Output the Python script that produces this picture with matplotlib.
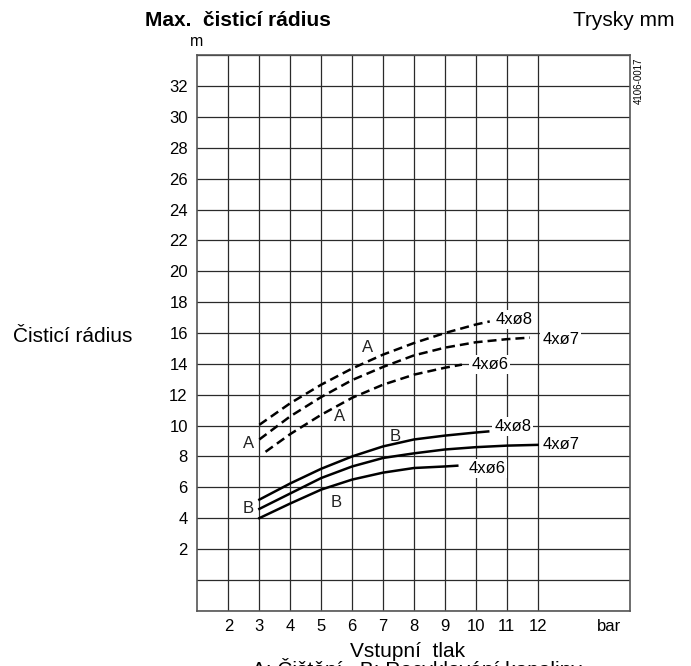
import numpy as np
from matplotlib import pyplot as plt

plt.rcParams["font.family"] = ["Liberation Sans", "DejaVu Sans"]

# pressure (bar) and max cleaning radius (m) per nozzle set, A = dashed, B = solid
a8_x = [3, 4, 5, 6, 7, 8, 9, 10, 10.45]
a8_y = [10.05, 11.45, 12.65, 13.7, 14.6, 15.35, 16.0, 16.55, 16.75]
a7_x = [3, 4, 5, 6, 7, 8, 9, 10, 11, 11.75]
a7_y = [9.1, 10.6, 11.85, 12.95, 13.8, 14.55, 15.05, 15.4, 15.6, 15.7]
a6_x = [3.2, 4, 5, 6, 7, 8, 9, 9.55]
a6_y = [8.3, 9.45, 10.7, 11.8, 12.65, 13.3, 13.75, 13.95]

b8_x = [3, 4, 5, 6, 7, 8, 9, 10, 10.4]
b8_y = [5.2, 6.25, 7.2, 8.0, 8.65, 9.1, 9.35, 9.55, 9.62]
b7_x = [3, 4, 5, 6, 7, 8, 9, 10, 11, 12]
b7_y = [4.6, 5.6, 6.6, 7.35, 7.9, 8.2, 8.45, 8.6, 8.7, 8.75]
b6_x = [3, 4, 5, 6, 7, 8, 9, 9.4]
b6_y = [4.0, 4.95, 5.85, 6.5, 6.95, 7.25, 7.35, 7.4]

grid_x = [2, 3, 4, 5, 6, 7, 8, 9, 10, 11, 12]
x_ticks = grid_x + [14.3]
x_labels = [str(v) for v in grid_x] + ["bar"]
y_ticks = [2, 4, 6, 8, 10, 12, 14, 16, 18, 20, 22, 24, 26, 28, 30, 32]

# (text, x, y) for curve labels
nozzle_labels = [
    ("4xø8", 11.25, 16.9),
    ("4xø7", 12.75, 15.55),
    ("4xø6", 10.45, 13.95),
    ("4xø8", 11.2, 9.95),
    ("4xø7", 12.75, 8.8),
    ("4xø6", 10.35, 7.25),
]
letter_labels = [
    ("A", 6.5, 15.05),
    ("A", 5.6, 10.6),
    ("A", 2.65, 8.85),
    ("B", 7.4, 9.3),
    ("B", 2.65, 4.65),
    ("B", 5.5, 5.0),
]

fig = plt.figure(figsize=(6.91, 6.66), dpi=100)
ax = fig.add_axes([0.2858, 0.083, 0.6266, 0.834])
ax.set_xlim(1, 15)
ax.set_ylim(-2, 34)

for x in grid_x:
    ax.axvline(x, color="#2a2a2a", lw=0.9, zorder=1)
for y in range(-2, 35, 2):
    ax.axhline(y, color="#2a2a2a", lw=0.9, zorder=1)
for s in ax.spines.values():
    s.set_color("#555555")
    s.set_linewidth(1.2)

ax.set_xticks(x_ticks)
ax.set_xticklabels(x_labels)
ax.set_yticks(y_ticks)
ax.tick_params(length=0, labelsize=12)
ax.tick_params(axis="x", pad=6)
ax.tick_params(axis="y", pad=7)

dash = dict(color="black", lw=1.8, linestyle=(0, (3.6, 2.0)), zorder=3)
solid = dict(color="black", lw=1.8, zorder=3)
ax.plot(a8_x, a8_y, **dash)
ax.plot(a7_x, a7_y, **dash)
ax.plot(a6_x, a6_y, **dash)
ax.plot(b8_x, b8_y, **solid)
ax.plot(b7_x, b7_y, **solid)
ax.plot(b6_x, b6_y, **solid)

for t, x, y in nozzle_labels:
    ax.text(x, y, t, fontsize=12, ha="center", va="center", zorder=4,
            bbox=dict(facecolor="white", edgecolor="none", pad=1.5))
for t, x, y in letter_labels:
    ax.text(x, y, t, fontsize=12, ha="center", va="center", zorder=4,
            color="#222222")

fig.text(0.345, 0.961, "Max.  čisticí rádius", fontsize=15, fontweight="bold",
         ha="center", va="baseline")
fig.text(0.902, 0.961, "Trysky mm", fontsize=15, ha="center", va="baseline")
fig.text(0.285, 0.931, "m", fontsize=11.5, ha="center", va="baseline")
fig.text(0.105, 0.494, "Čisticí rádius", fontsize=15, ha="center", va="center")
fig.text(0.590, 0.0135, "Vstupní  tlak", fontsize=15, ha="center", va="baseline")
fig.text(0.603, -0.0155, "A: Čištění   B: Recyklování kapaliny", fontsize=15,
         ha="center", va="baseline")
fig.text(0.925, 0.878, "4106-0017", fontsize=7, rotation=90,
         ha="center", va="center")

plt.savefig("out.png", dpi=100)
